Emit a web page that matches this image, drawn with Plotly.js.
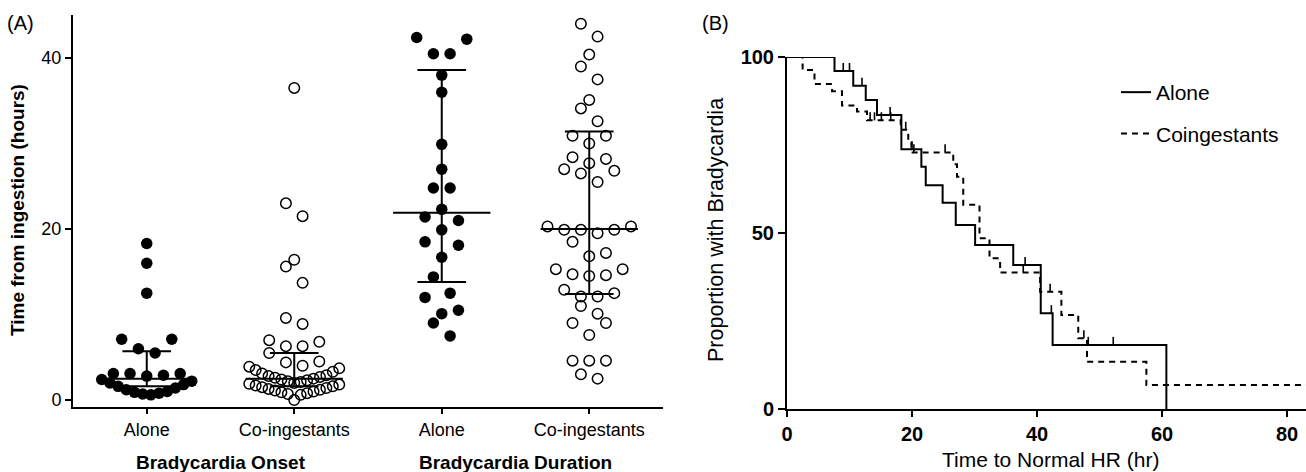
<!DOCTYPE html>
<html><head><meta charset="utf-8">
<script src="https://cdn.plot.ly/plotly-3.0.1.min.js"></script>
<style>html,body{margin:0;padding:0;background:#fff}#chart{width:1306px;height:472px}</style>
</head><body><div id="chart"></div>
<script>
// ---------- Panel A data ----------
const categories = ["Alone", "Co-ingestants", "Alone", "Co-ingestants"];
const groupLabels = ["Bradycardia Onset", "Bradycardia Duration"];

const onsetAlone = [18.3, 16.0, 12.5, 7.1, 7.1, 6.0, 5.5, 3.1, 2.9, 2.8, 3.1, 3.1,
  2.4, 2.2, 2.0, 1.8, 1.6, 1.4, 1.2, 1.0, 0.9, 0.8, 0.7, 0.6];
const onsetCo = [36.5, 23.0, 21.5, 16.4, 15.6, 13.7, 9.6, 8.9, 7.0, 6.8, 6.3, 6.3, 5.5, 4.5, 4.4, 4.0,
  3.9, 3.7, 3.5, 3.3, 3.1, 2.9, 2.8, 2.7, 2.6, 2.5, 2.4, 2.3, 2.2, 2.1, 2.0,
  1.9, 1.8, 1.7, 1.6, 1.5, 1.4, 1.3, 1.2, 1.1, 1.0, 0.9, 0.8, 0.7, 0.6, 0.0];
const durationAlone = [42.4, 42.2, 40.5, 40.5, 38.0, 36.0, 29.9, 27.0, 24.8, 24.8, 22.3, 21.4,
  21.0, 19.9, 18.5, 18.1, 16.7, 14.4, 12.5, 12.0, 10.5, 10.1, 9.0, 7.5];
const durationCo = [44.0, 42.5, 40.4, 39.0, 37.5, 35.1, 34.1, 32.6, 30.9, 30.9, 30.0, 28.4, 28.2, 27.7,
  27.0, 26.8, 26.5, 25.5, 20.3, 20.3, 19.9, 19.9, 19.9, 19.5, 18.5, 17.2, 16.8, 15.3, 15.3,
  14.7, 14.6, 14.5, 12.9, 12.5, 12.1, 12.1, 11.0, 10.1, 9.0, 9.0, 7.6, 4.6, 4.6, 4.6, 3.0, 2.5];

const medians = [2.5, 2.5, 21.9, 20.0];
const lowerQ = [1.6, 1.6, 13.8, 12.4];
const upperQ = [5.7, 5.5, 38.6, 31.4];

// ---------- Panel B data (Kaplan-Meier steps, %) ----------
const aloneTime = [0, 7.6, 10.6, 12.6, 14.4, 18.3, 21.5, 22.2, 24.9, 27.0, 30.1, 36.2, 40.6, 42.5, 60.7];
const aloneSurv = [100, 96.0, 91.8, 87.8, 83.5, 73.8, 68.8, 63.6, 58.6, 52.3, 46.6, 40.9, 27.2, 18.2, 0];
const aloneCensor = [9.0, 10.0, 12.0, 16.5, 20.0, 38.1, 42.3, 48.2, 52.2];

const coTime = [0, 2.5, 4.4, 7.2, 8.8, 11.2, 12.8, 18.2, 19.4, 19.9, 26.6, 27.2, 28.2, 30.8, 32.4, 34.1, 40.5, 43.9, 46.6, 48.0, 57.5, 84];
const coSurv = [100, 96.3, 92.3, 90.3, 86.2, 84.5, 82.0, 79.3, 76.4, 72.9, 69.5, 66.0, 58.0, 48.5, 42.8, 38.8, 33.3, 26.7, 20.1, 13.4, 6.8, 6.8];
const coCensor = [13.3, 14.0, 15.1, 16.6, 19.0, 20.3, 25.3, 37.8, 42.1, 47.5];

// ---------- geometry ----------
const W = 1306, H = 472;
const FONT = "Liberation Sans, Arial, Helvetica, sans-serif";
const A_xd = [73 / W, 663 / W], A_yd = [(H - 407) / H, (H - 15) / H];
const A_ppu = 8.55;
const A_yr = [-(407 - 400) / A_ppu, (400 - 15) / A_ppu];
const A_xr = [-0.5, 3.5];
const A_ppx = (663 - 73) / (A_xr[1] - A_xr[0]);
const B_xd = [787 / W, 1], B_yd = [(H - 409) / H, (H - 57) / H];
const B_xr = [0, (1306 - 787) / 6.25];

// Prism-like column scatter layout
function swarm(values, idx) {
  const s = 16.7, maxHalf = 45, h = s / A_ppu;
  const sorted = values.slice().sort((a, b) => a - b);
  const xs = [], ys = [];
  let i = 0;
  while (i < sorted.length) {
    const start = sorted[i], row = [];
    while (i < sorted.length && sorted[i] - start <= h) { row.push(sorted[i]); i++; }
    const n = row.length;
    let sp = s;
    if (n > 1 && (n - 1) / 2 * s > maxHalf) sp = 2 * maxHalf / (n - 1);
    const slots = [];
    for (let k = 0; k < n; k++) slots.push((k - (n - 1) / 2) * sp);
    slots.sort((a, b) => (Math.abs(a) - Math.abs(b)) || (b - a));
    row.forEach((v, k) => { xs.push(idx + slots[k] / A_ppx); ys.push(v); });
  }
  return { xs, ys };
}

const groups = [onsetAlone, onsetCo, durationAlone, durationCo];
const traces = [];
groups.forEach((g, i) => {
  const sw = swarm(g, i);
  const filled = (i % 2 === 0);
  traces.push({
    type: "scatter", mode: "markers", x: sw.xs, y: sw.ys, xaxis: "x", yaxis: "y",
    showlegend: false, hoverinfo: "skip", cliponaxis: false,
    marker: filled ? { symbol: "circle", size: 11.5, color: "black", line: { width: 0 } }
                   : { symbol: "circle-open", size: 10.5, color: "black", line: { width: 1.5 } }
  });
});
// median + interquartile bars
groups.forEach((g, i) => {
  const mw = 0.33, cw = 0.165;
  traces.push({
    type: "scatter", mode: "lines", xaxis: "x", yaxis: "y", showlegend: false, hoverinfo: "skip",
    x: [i - mw, i + mw, null, i - cw, i + cw, null, i - cw, i + cw, null, i, i],
    y: [medians[i], medians[i], null, lowerQ[i], lowerQ[i], null, upperQ[i], upperQ[i], null, lowerQ[i], upperQ[i]],
    line: { color: "black", width: 2 }
  });
});

// KM curves
function levelAt(times, surv, t) {
  let v = surv[0];
  for (let k = 0; k < times.length; k++) if (times[k] <= t) v = surv[k];
  return v;
}
traces.push({
  type: "scatter", mode: "lines", name: "Alone", x: aloneTime, y: aloneSurv, xaxis: "x2", yaxis: "y2",
  line: { shape: "hv", color: "black", width: 2 }, legendgroup: "a", hoverinfo: "skip"
});
traces.push({
  type: "scatter", mode: "lines", name: "Coingestants", x: coTime, y: coSurv, xaxis: "x2", yaxis: "y2",
  line: { shape: "hv", color: "black", width: 2, dash: "6px,5px" }, legendgroup: "b", hoverinfo: "skip"
});
[[aloneCensor, aloneTime, aloneSurv, "a"], [coCensor, coTime, coSurv, "b"]].forEach(([c, t, s, lg]) => {
  traces.push({
    type: "scatter", mode: "markers", x: c, y: c.map(v => levelAt(t, s, v)), xaxis: "x2", yaxis: "y2",
    showlegend: false, legendgroup: lg, hoverinfo: "skip",
    marker: { size: 1, color: "rgba(0,0,0,0)" },
    error_y: { type: "constant", value: 2.3, valueminus: 0, symmetric: false, width: 0, thickness: 1.6, color: "black" }
  });
});

const axBase = { showgrid: false, zeroline: false, showline: true, linecolor: "black", linewidth: 2,
  ticks: "outside", tickcolor: "black", tickwidth: 2, fixedrange: true };

const layout = {
  width: W, height: H, margin: { l: 0, r: 0, t: 0, b: 0 },
  paper_bgcolor: "white", plot_bgcolor: "rgba(0,0,0,0)",
  font: { family: FONT, color: "black" },
  xaxis: Object.assign({}, axBase, { domain: A_xd, range: A_xr, tickvals: [0, 1, 2, 3], ticktext: categories,
    ticklen: 5, tickfont: { size: 18, family: FONT }, anchor: "y" }),
  yaxis: Object.assign({}, axBase, { domain: A_yd, range: A_yr, tickvals: [0, 20, 40],
    ticklen: 6, tickfont: { size: 18, family: FONT }, anchor: "x" }),
  xaxis2: Object.assign({}, axBase, { domain: B_xd, range: B_xr, tickvals: [0, 20, 40, 60, 80],
    ticklen: 6, tickfont: { size: 20, family: FONT, weight: "bold" }, anchor: "y2" }),
  yaxis2: Object.assign({}, axBase, { domain: B_yd, range: [0, 100], tickvals: [0, 50, 100],
    ticklen: 7, tickfont: { size: 20, family: FONT, weight: "bold" }, anchor: "x2" }),
  showlegend: true,
  legend: { x: 1116 / W, y: (H - 72) / H, xanchor: "left", yanchor: "top", bgcolor: "rgba(0,0,0,0)",
    font: { size: 21, family: FONT }, traceorder: "grouped", tracegroupgap: 11, itemwidth: 30 },
  annotations: [
    { text: "(A)", xref: "paper", yref: "paper", x: 5 / W, y: (H - 23) / H, xanchor: "left", yanchor: "middle",
      showarrow: false, font: { size: 20, family: FONT } },
    { text: "(B)", xref: "paper", yref: "paper", x: 700 / W, y: (H - 23) / H, xanchor: "left", yanchor: "middle",
      showarrow: false, font: { size: 20, family: FONT } },
    { text: "Time from ingestion (hours)", xref: "paper", yref: "paper", x: 17 / W, y: (H - 210) / H,
      xanchor: "center", yanchor: "middle", textangle: -90, showarrow: false,
      font: { size: 19, family: FONT, weight: "bold" } },
    { text: groupLabels[0], xref: "x", yref: "paper", x: 0.5, y: (H - 462) / H, xanchor: "center", yanchor: "middle",
      showarrow: false, font: { size: 19, family: FONT, weight: "bold" } },
    { text: groupLabels[1], xref: "x", yref: "paper", x: 2.5, y: (H - 462) / H, xanchor: "center", yanchor: "middle",
      showarrow: false, font: { size: 19, family: FONT, weight: "bold" } },
    { text: "Proportion with Bradycardia", xref: "paper", yref: "paper", x: 716 / W, y: (H - 230) / H,
      xanchor: "center", yanchor: "middle", textangle: -90, showarrow: false, font: { size: 21.5, family: FONT } },
    { text: "Time to Normal HR (hr)", xref: "paper", yref: "paper", x: 1050 / W, y: (H - 459) / H,
      xanchor: "center", yanchor: "middle", showarrow: false, font: { size: 21, family: FONT } }
  ]
};

Plotly.newPlot("chart", traces, layout, { displayModeBar: false, staticPlot: true });
</script>
</body></html>
